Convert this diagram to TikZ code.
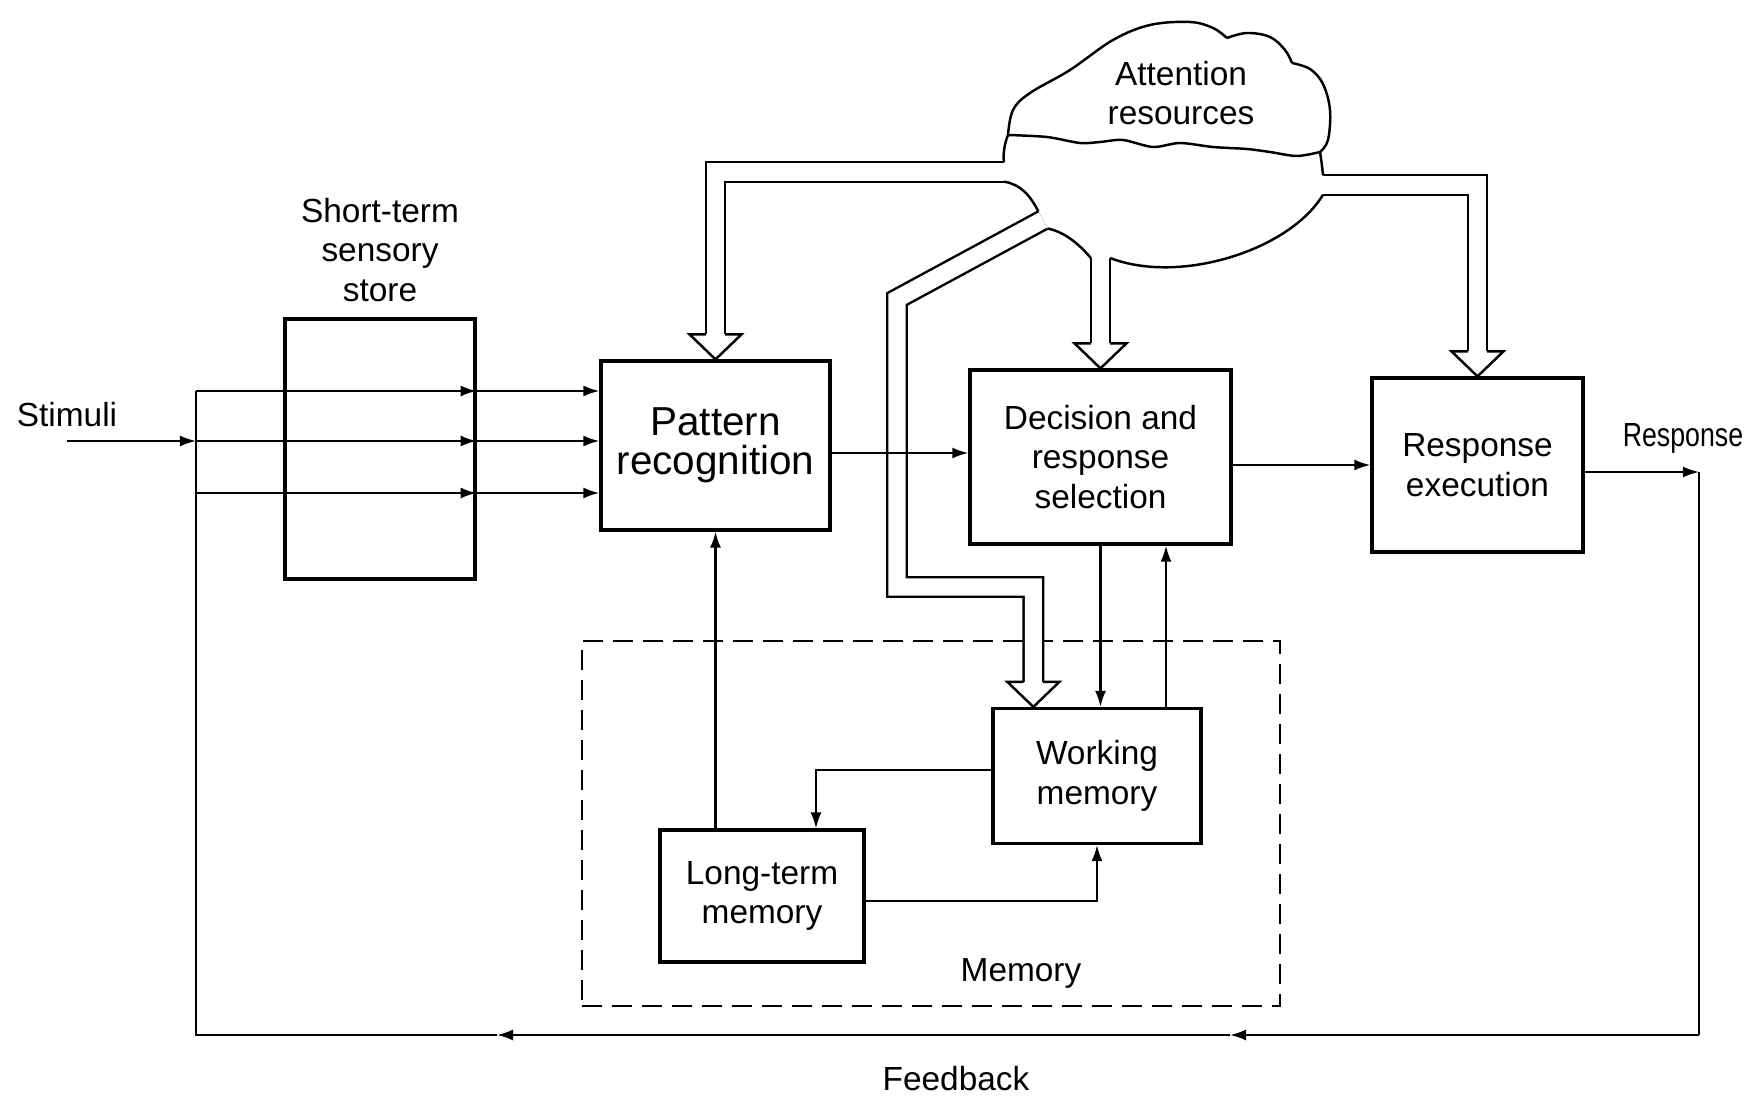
\documentclass[tikz,border=0pt]{standalone}
\usepackage{fontspec}
\setmainfont{Liberation Sans}
\usetikzlibrary{arrows.meta,calc}

\newcommand{\lbl}{\fontsize{9.5}{11.2}\selectfont}
\tikzset{
  box/.style={draw, line width=0.9pt, align=center, inner sep=0pt, font=\lbl},
  lbl/.style={align=center, inner sep=1pt, font=\lbl},
  ln/.style={line width=0.6pt},
  arr/.style={ln, -{Latex[length=1.6mm,width=1.1mm]}},
  shaft/.style={double, line width=0.7pt, double distance=0.17cm},
  membox/.style={draw, line width=0.7pt, dash pattern=on 2mm off 1mm, inner sep=0pt},
}
% open head of a broad arrow, tip given
\newcommand{\hollowhead}[1]{\draw[line width=0.7pt] ($#1+(-9.7,-25)$) -- ++(-16.3,0) -- #1 -- ++(26,-25) -- ++(-16.3,0);}

\begin{document}
\begin{tikzpicture}[x=0.01cm, y=-0.01cm]
  \useasboundingbox (0,0) rectangle (1753,1097);

  % Stages
  \node[box, minimum width=1.90cm, minimum height=2.60cm] (store) at (380,449) {};
  \node[lbl] (storelbl) at (380,250) {Short-term\\sensory\\store};
  \node[box, minimum width=2.29cm, minimum height=1.69cm, font=\fontsize{11.5}{11}\selectfont] (pattern) at (715.5,445.5) {Pattern\\recognition};
  \node[box, minimum width=2.61cm, minimum height=1.74cm] (decision) at (1100.5,457) {Decision and\\response\\selection};
  \node[box, minimum width=2.11cm, minimum height=1.74cm, text depth=-0.1cm] (response) at (1477.5,465) {Response\\execution};

  % Memory
  \node[membox, minimum width=6.98cm, minimum height=3.65cm] (memory) at (931,823.5) {};
  \node[lbl] (memlbl) at (1021,973) {Memory};
  \node[box, minimum width=2.08cm, minimum height=1.35cm] (working) at (1097,776) {Working\\memory};
  \node[box, minimum width=2.04cm, minimum height=1.32cm] (longterm) at (762,896) {Long-term\\memory};

  % Labels
  \node[lbl] (stimuli) at (67,415) {Stimuli};
  \node[lbl, xscale=0.8] (resplbl) at (1683,438) {Response};
  \node[lbl] (fblbl) at (956,1079) {Feedback};
  \node[lbl] (attn) at (1181,93) {Attention\\resources};

  \coordinate (split) at (196,441);
  \coordinate (out) at (1699,472);
  \coordinate (fbr) at (1699,1035);
  \coordinate (fbl) at (196,1035);
  \coordinate (wmtip) at ($(working.north west)+(42,0)$);

  % Cloud
  \draw[line width=0.7pt] plot[smooth, tension=0.6] coordinates {(1008,135) (1013,110) (1030,93) (1070,70) (1113,40) (1150,25) (1190,22) (1213,28) (1227,38)}
    plot[smooth, tension=0.6] coordinates {(1227,38) (1247,33) (1270,37) (1285,50) (1292,63)}
    plot[smooth, tension=0.6] coordinates {(1292,63) (1310,69) (1323,84) (1330,110) (1328,140) (1320,152)}
    plot[smooth, tension=0.5] coordinates {(1320,152) (1297,156) (1270,152) (1247,149) (1213,147) (1180,143) (1153,147) (1123,140) (1100,142) (1080,143) (1047,137) (1008,135)};
  \draw[line width=0.7pt] (1008,135) .. controls (1004,145) and (1003,155) .. (1004,162.3);
  \draw[line width=0.7pt] (1004,181.7) .. controls (1020,184) and (1030,195) .. (1038.4,211.5);
  \draw[line width=0.7pt] (1047.6,228.5) .. controls (1065,232) and (1080,245) .. (1090.8,258);
  \draw[line width=0.7pt] (1110.2,258) .. controls (1180,285) and (1290,250) .. (1323,194.7);
  \draw[line width=0.7pt] (1323,175.3) .. controls (1322,165) and (1321,158) .. (1320,152);

  % Broad arrows from the cloud
  \draw[shaft] (1004,172) -| ($(pattern.north)+(0,-25)$);
  \hollowhead{(pattern.north)}
  \draw[shaft] (1043,220) -- (897,299) -- (897,587) -| ($(wmtip)+(0,-25)$);
  \hollowhead{(wmtip)}
  \draw[shaft] (decision.north |- 0,258) -- ($(decision.north)+(0,-25)$);
  \hollowhead{(decision.north)}
  \draw[shaft] (1323,185) -| ($(response.north)+(0,-25)$);
  \hollowhead{(response.north)}

  % Stimuli through the sensory store
  \draw[arr] (67,441) -- (split);
  \foreach \y in {391,441,493} {
    \draw[arr] (196,\y) -- (store.east |- 0,\y);
    \draw[arr] (store.east |- 0,\y) -- (pattern.west |- 0,\y);
  }
  \draw[arr] (pattern.east |- 0,453) -- (decision.west |- 0,453);
  \draw[arr] (decision.east |- response.west) -- (response.west);
  \draw[arr] (response.east |- out) -- (out);

  % Feedback
  \draw[ln] (out) -- (fbr);
  \draw[arr] (fbr) -- (1230,1035);
  \draw[arr] (1230,1035) -- (497,1035);
  \draw[ln] (497,1035) -- (fbl) -- (196,391);

  % Memory links
  \draw[arr] (pattern.south |- longterm.north) -- (pattern.south);
  \draw[arr] (working.west |- 0,770) -| (longterm.north -| 816,0);
  \draw[arr] (longterm.east |- 0,901) -| (working.south);
  \draw[arr] (decision.south) -- (decision.south |- working.north);
  \draw[arr] (working.north -| 1166,0) -- (decision.south -| 1166,0);
\end{tikzpicture}
\end{document}
